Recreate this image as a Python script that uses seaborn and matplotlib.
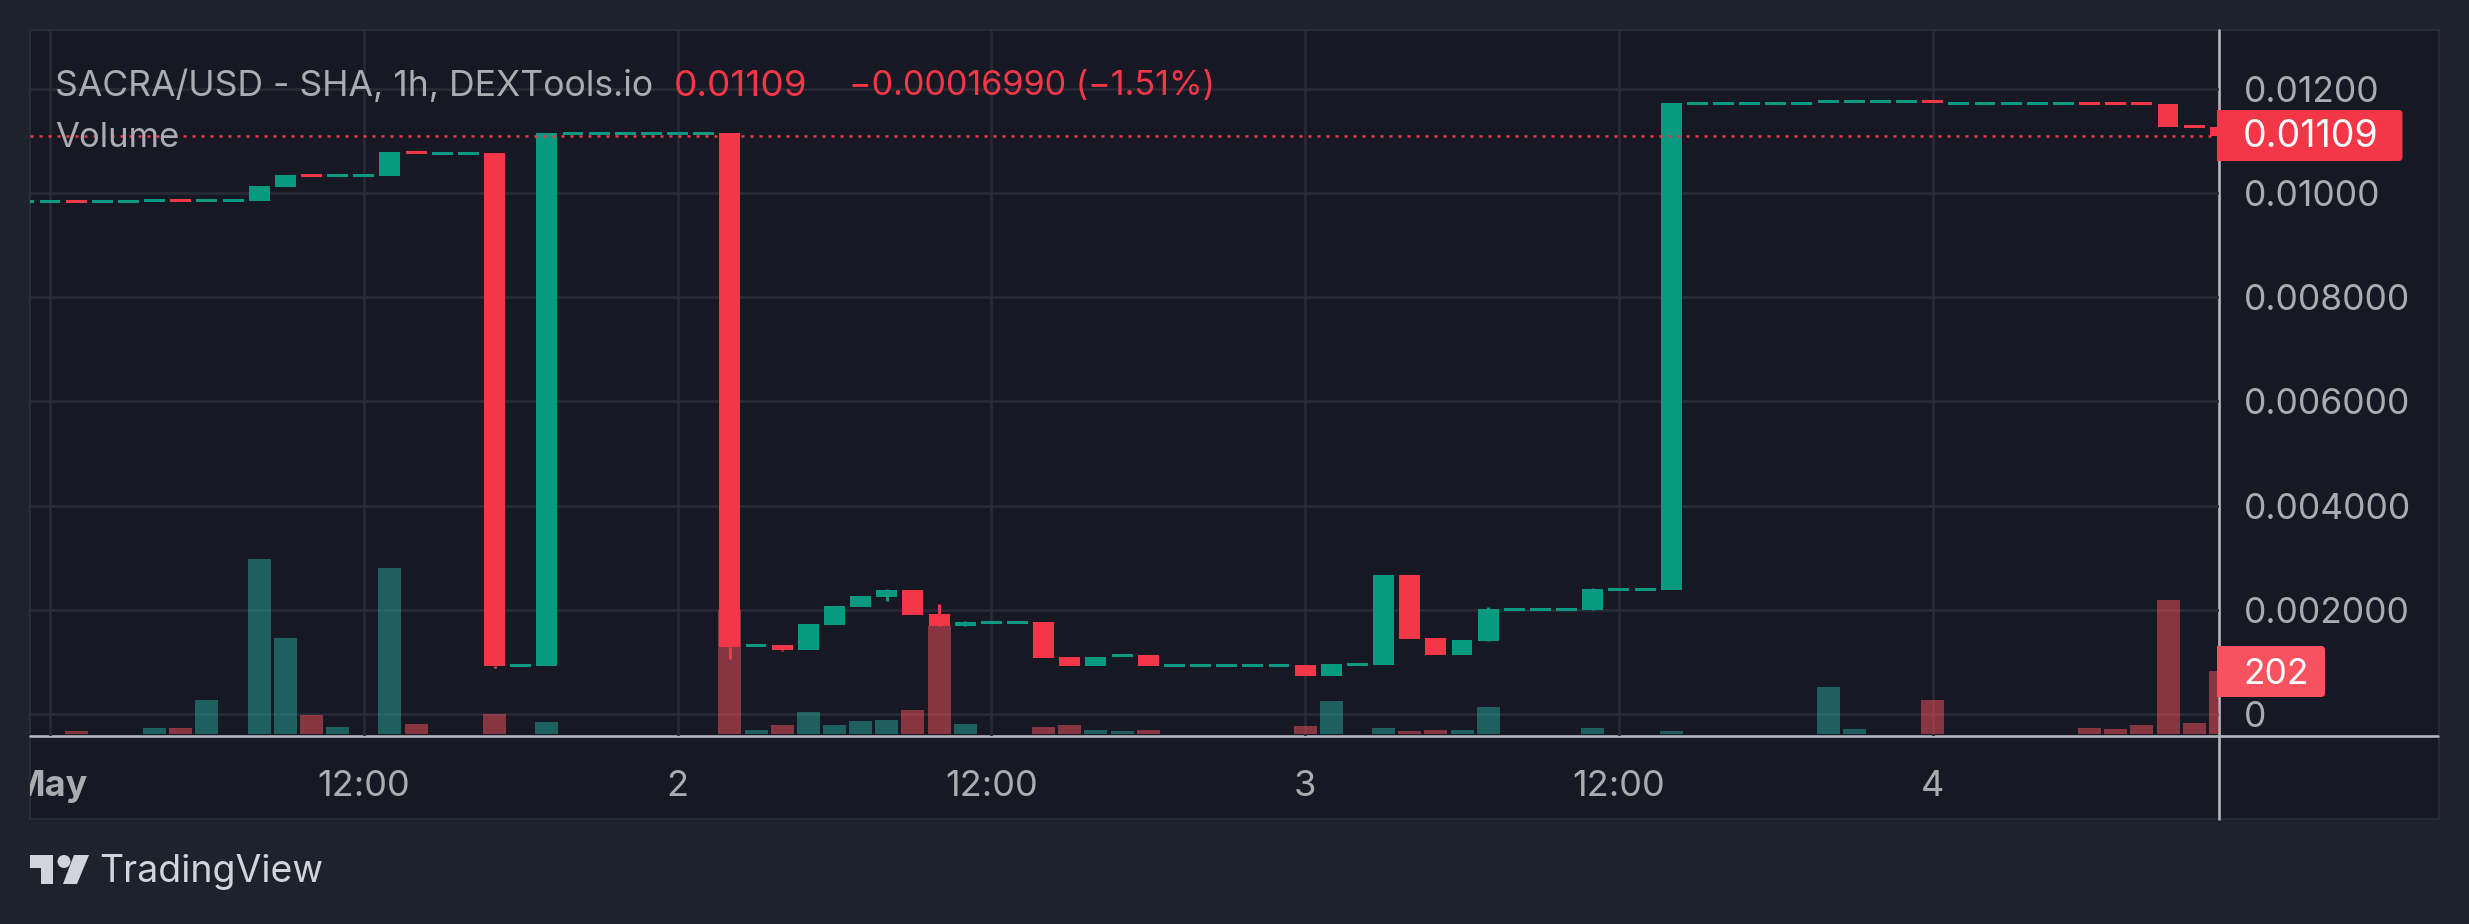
from __future__ import annotations

import matplotlib

matplotlib.use("Agg")

import matplotlib.pyplot as plt
import pandas as pd
import seaborn as sns
from matplotlib.lines import Line2D
from matplotlib.patches import Circle, FancyBboxPatch, Polygon, Rectangle

FIG_W = 2469
FIG_H = 924
FIGURE_DPI = 100

OUTER_BG = "#1E222D"
PANEL_BG = "#161824"
GRID = "#282A36"
AXIS_LINE = "#B2B5BE"
TEXT = "#ABABB1"
LOGO = "#D1D4DC"
UP = "#089981"
DOWN = "#F43748"
VOL_UP = "#26A69A"
VOL_DOWN = "#F7525F"

# hours counted from 1 May 00:00
hours = list(range(-1, 84))

opens = [
    0.009804, 0.009804, 0.009862, 0.009804, 0.009804, 0.009823, 0.009881, 0.009823, 0.009823,
    0.009843, 0.010111, 0.010366, 0.010309, 0.010309, 0.010322, 0.010801, 0.010725, 0.010725,
    0.010763, 0.000907, 0.000926, 0.011108, 0.011108, 0.011108, 0.011108, 0.011108, 0.011108,
    0.011146, 0.001290, 0.001329, 0.001233, 0.001712, 0.002057, 0.002249, 0.002383, 0.001923,
    0.001693, 0.001732, 0.001732, 0.001770, 0.001099, 0.000926, 0.001099, 0.001137, 0.000907,
    0.000907, 0.000907, 0.000907, 0.000907, 0.000945, 0.000734, 0.000926, 0.000945, 0.002671,
    0.001463, 0.001137, 0.001406, 0.001981, 0.001981, 0.001981, 0.002000, 0.002364, 0.002364,
    0.002383, 0.011683, 0.011683, 0.011683, 0.011683, 0.011683, 0.011722, 0.011722, 0.011722,
    0.011722, 0.011779, 0.011683, 0.011683, 0.011683, 0.011683, 0.011683, 0.011741, 0.011741,
    0.011741, 0.011702, 0.011300, 0.011262,
]
closes = [
    0.009862, 0.009862, 0.009804, 0.009862, 0.009862, 0.009881, 0.009823, 0.009881, 0.009881,
    0.010130, 0.010341, 0.010309, 0.010366, 0.010366, 0.010782, 0.010744, 0.010782, 0.010782,
    0.000926, 0.000965, 0.011146, 0.011166, 0.011166, 0.011166, 0.011166, 0.011166, 0.011166,
    0.001290, 0.001348, 0.001233, 0.001732, 0.002077, 0.002268, 0.002383, 0.001904, 0.001693,
    0.001770, 0.001789, 0.001789, 0.001080, 0.000926, 0.001099, 0.001156, 0.000926, 0.000965,
    0.000965, 0.000965, 0.000965, 0.000965, 0.000734, 0.000965, 0.000984, 0.002671, 0.001444,
    0.001137, 0.001425, 0.002019, 0.002038, 0.002038, 0.002038, 0.002403, 0.002422, 0.002422,
    0.011722, 0.011741, 0.011741, 0.011741, 0.011741, 0.011741, 0.011779, 0.011779, 0.011779,
    0.011779, 0.011722, 0.011741, 0.011741, 0.011741, 0.011741, 0.011741, 0.011683, 0.011683,
    0.011683, 0.011262, 0.011243, 0.011095,
]

wick_hours = [17, 26, 28, 32, 34, 35, 55, 59]
wick_lows = [0.000897, 0.001060, 0.001214, 0.002173, 0.001693, 0.001693, 0.001406, 0.002000]
wick_highs = [0.000926, 0.001290, 0.001233, 0.002403, 0.002115, 0.001789, 0.002057, 0.002422]

volume_hours = [
    1, 4, 5, 6, 8, 9, 10, 11, 13, 14, 17, 19, 26, 27, 28, 29, 30, 31, 32, 33, 34, 35, 38, 39,
    40, 41, 42, 48, 49, 51, 52, 53, 54, 55, 59, 62, 68, 69, 72, 78, 79, 80, 81, 82, 83,
]
volumes = [
    10, 19, 19, 109, 561, 308, 61, 22, 532, 32, 64, 38, 397, 13, 29, 71, 29, 42, 45, 77, 346, 32,
    22, 29, 13, 10, 13, 26, 106, 19, 10, 13, 13, 87, 19, 10, 151, 16, 109, 19, 16, 29, 429, 35, 202,
]

last_price = 0.01109
price_ticks = [0, 0.002, 0.004, 0.006, 0.008, 0.01, 0.012]
price_labels = ["0", "0.002000", "0.004000", "0.006000", "0.008000", "0.01000", "0.01200"]
time_ticks = [0, 12, 24, 36, 48, 60, 72]
time_labels = ["May", "12:00", "2", "12:00", "3", "12:00", "4"]


def px_rect(left: float, top: float, right: float, bottom: float) -> list[float]:
    return [left / FIG_W, 1 - bottom / FIG_H, (right - left) / FIG_W, (bottom - top) / FIG_H]


def px_text(x: float, y: float, text: str, **kwargs) -> None:
    kwargs.setdefault("va", "center")
    kwargs.setdefault("zorder", 10)
    plt.gcf().text(x / FIG_W, 1 - y / FIG_H, text, **kwargs)


def draw_frame(frame: plt.Axes) -> None:
    frame.set_xlim(0, FIG_W)
    frame.set_ylim(FIG_H, 0)
    frame.axis("off")
    frame.add_patch(Rectangle((30, 30), 2408.5, 789, facecolor=PANEL_BG, edgecolor=GRID, linewidth=1.5))
    frame.add_line(Line2D([30, 2438], [736.3, 736.3], color=AXIS_LINE, linewidth=1.9))
    frame.add_line(Line2D([2218.5, 2218.5], [30, 819], color=AXIS_LINE, linewidth=1.9))

    # last price and last volume tags
    for top, bottom, right, colour in [(110, 161, 2402.5, DOWN), (646, 697, 2325, VOL_DOWN)]:
        frame.add_patch(FancyBboxPatch(
            (2222, top + 4), right - 2226, bottom - top - 8,
            boxstyle="round,pad=4", facecolor=colour, edgecolor="none", zorder=4,
        ))
        frame.add_patch(Rectangle((2217, top), 20, bottom - top, facecolor=colour, edgecolor="none", zorder=4))

    # TradingView logo
    frame.add_patch(Polygon(
        [(30, 855), (53, 855), (53, 884), (41, 884), (41, 868), (30, 868)], facecolor=LOGO, edgecolor="none",
    ))
    frame.add_patch(Circle((64, 861.5), 6.5, facecolor=LOGO, edgecolor="none"))
    frame.add_patch(Polygon([(74, 855), (89, 855), (77, 884), (63, 884)], facecolor=LOGO, edgecolor="none"))


def main() -> None:
    sns.set_theme(style="darkgrid", rc={
        "figure.facecolor": OUTER_BG,
        "axes.facecolor": "none",
        "grid.color": GRID,
        "grid.linewidth": 1.9,
    })
    plt.rcParams["font.family"] = ["Inter", "DejaVu Sans"]

    candles = pd.DataFrame({"hour": hours, "open": opens, "close": closes})
    candles["side"] = ["up" if c >= o else "down" for o, c in zip(opens, closes)]
    candles["low"] = candles[["open", "close"]].min(axis=1)
    candles["height"] = (candles["close"] - candles["open"]).abs()

    volume_df = pd.DataFrame({"hour": volume_hours, "volume": volumes})
    volume_df = volume_df.merge(candles[["hour", "side"]], on="hour")

    fig = plt.figure(figsize=(FIG_W / FIGURE_DPI, FIG_H / FIGURE_DPI), dpi=FIGURE_DPI)
    frame = fig.add_axes([0, 0, 1, 1], zorder=0)
    draw_frame(frame)

    rect = px_rect(30, 30, 2218.5, 736.3)
    price_ax = fig.add_axes(rect, zorder=1)
    volume_ax = fig.add_axes(rect, zorder=2, sharex=price_ax)
    candle_ax = fig.add_axes(rect, zorder=3, sharex=price_ax)

    sns.barplot(
        data=volume_df, x="hour", y="volume", hue="side", ax=volume_ax,
        palette={"up": VOL_UP, "down": VOL_DOWN}, native_scale=True, dodge=False,
        width=0.88, saturation=1, alpha=0.5, errorbar=None, legend=False, linewidth=0,
    )

    candle_colours = [UP if side == "up" else DOWN for side in candles["side"]]
    candle_ax.bar(
        candles["hour"], candles["height"], bottom=candles["low"], width=0.8,
        color=candle_colours, linewidth=0,
    )
    wick_colours = [candle_colours[hours.index(h)] for h in wick_hours]
    candle_ax.vlines(wick_hours, wick_lows, wick_highs, colors=wick_colours, linewidth=2.2)
    candle_ax.axhline(last_price, color=DOWN, linewidth=1.8, linestyle=(0, (1.2, 2.4)))

    for ax in (price_ax, volume_ax, candle_ax):
        ax.set_xlim(-0.765, 82.93)
        ax.set_xlabel("")
        ax.set_ylabel("")
        for spine in ax.spines.values():
            spine.set_visible(False)
    price_ax.set_ylim(-0.000422, 0.013122)
    candle_ax.set_ylim(-0.000422, 0.013122)
    volume_ax.set_ylim(-7.4, 2256)

    for ax in (volume_ax, candle_ax):
        ax.grid(False)
        ax.set_yticks([])
        ax.tick_params(axis="x", labelbottom=False, length=0)

    price_ax.set_yticks(price_ticks, price_labels)
    price_ax.yaxis.tick_right()
    price_ax.tick_params(axis="y", length=0, pad=18, labelsize=25.5, labelcolor=TEXT)
    price_ax.set_xticks(time_ticks, time_labels)
    price_ax.tick_params(axis="x", length=0, pad=24, labelsize=26, labelcolor=TEXT)

    # the first date label runs off the left edge of the chart panel
    clip_box = Rectangle((30, 30), 2408.5, 789, transform=frame.transData)
    first_label = price_ax.get_xticklabels()[0]
    first_label.set_fontweight("bold")
    first_label.set_clip_path(clip_box)
    first_label.set_clip_on(True)

    px_text(55, 86, "SACRA/USD - SHA, 1h, DEXTools.io", color=TEXT, fontsize=25.6)
    px_text(674, 86, "0.01109", color=DOWN, fontsize=26.5)
    px_text(849, 86, "\u22120.00016990 (\u22121.51%)", color=DOWN, fontsize=24.6)
    px_text(55, 138, "Volume", color=TEXT, fontsize=25)
    px_text(2243, 137, "0.01109", color="white", fontsize=27)
    px_text(2243, 674, "202", color="white", fontsize=25.5)
    px_text(99, 872, "TradingView", color=LOGO, fontsize=27)

    fig.savefig("out.png", dpi=FIGURE_DPI, facecolor=OUTER_BG)
    plt.close(fig)


if __name__ == "__main__":
    main()
